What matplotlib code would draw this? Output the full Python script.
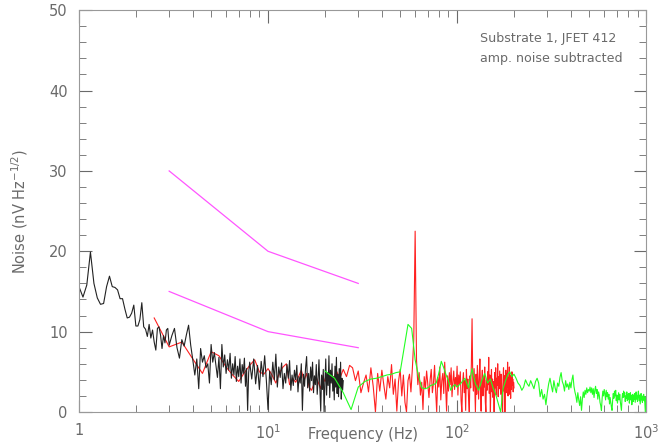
# noise spectrum, substrate 1 with JFET 412
import numpy as np
import matplotlib
matplotlib.use('Agg')
import matplotlib.pyplot as plt
from matplotlib.ticker import MultipleLocator, FixedLocator, LogLocator, NullFormatter

# black trace, three frequency segments (Hz)
black_lo = [15.6, 14.3, 15.8, 19.9, 16.0, 14.2, 13.4, 13.5, 15.6, 16.9,
            15.6, 15.5, 15.2, 14.1, 14.1, 12.8, 11.7, 11.8, 12.3, 13.3,
            10.7, 10.7, 11.5, 13.6, 10.6, 10.3, 9.4, 10.9, 9.2, 10.2,
            8.7, 7.7, 10.4, 10.6, 9.6, 7.9, 9.5, 8.6, 10.2, 10.4, 8.3]
black_mid = [9.5, 10.4, 8.0, 6.7, 9.0, 8.2, 9.6, 10.8, 8.3, 6.5,
             4.6, 6.6, 2.9, 7.9, 6.2, 7.0, 5.5, 6.0, 3.6, 8.4,
             6.2, 7.4, 5.8, 4.3, 6.8, 2.9, 8.4, 5.6, 7.1, 4.8,
             6.5, 5.2, 7.3, 4.2, 6.0, 4.6, 6.9, 3.8, 5.7, 4.4,
             6.6, 3.6, 5.9, 4.8, 6.7, 3.2, 5.4, 0.2, 4.9, 6.2]
black_hi = [4.1, 6.6, 3.5, 5.8, 2.8, 6.3, 4.4, 7.0, 3.9, 0.3,
            5.1, 3.4, 6.2, 4.0, 7.2, 3.1, 5.6, 4.3, 6.1, 2.9,
            4.8, 3.6, 5.9, 4.2, 6.4, 2.7, 4.6, 3.3, 5.2, 4.0,
            5.8, 2.5, 4.4, 3.6, 6.0, 0.2, 4.7, 3.2, 5.5, 6.9,
            3.0, 4.8, 2.6, 5.6, 3.9, 6.2, 2.4, 4.5, 3.4, 5.9,
            2.2, 4.1, 6.5, 3.0, 0.1, 4.6, 2.8, 5.3, 0.0, 3.7,
            6.6, 2.1, 4.9, 3.3, 7.0, 1.8, 5.2, 3.6, 6.0, 2.6,
            4.4, 1.5, 5.7, 3.1, 6.8, 2.3, 4.7, 1.9, 5.4, 3.0,
            6.2, 1.6, 4.2, 2.7, 3.9]

# red trace
red_lo = [11.7, 8.1, 8.7, 6.6, 4.8, 7.5, 7.0, 5.6, 4.6, 3.8,
          4.9, 5.8, 6.5, 5.0, 4.7, 5.4, 4.6, 3.6, 4.9, 5.6,
          6.0, 3.4, 4.2, 3.7, 4.4, 5.2, 3.9, 4.8, 3.1, 2.7,
          3.5, 4.3, 3.6, 2.9, 4.5, 3.8]
red_hi = [4.6, 3.9, 5.1, 4.2, 5.3, 4.4, 5.8, 5.5, 3.9, 5.1,
          2.4, 3.6, 4.6, 2.5, 5.5, 3.2, 0.0, 4.8, 2.6, 5.2,
          3.3, 1.6, 4.4, 3.0, 5.9, 2.2, 4.1, 0.1, 3.8, 5.3,
          2.0, 4.6, 1.2, 0.0, 3.9, 4.7, 2.5, 5.4, 9.0, 22.5,
          6.5, 3.4, 4.9, 2.1, 3.7, 0.3, 4.4, 2.9, 5.1, 3.5,
          1.8, 4.0, 5.3, 2.4, 3.6, 5.8, 2.7, 0.0, 4.3, 3.1,
          5.6, 1.5, 3.9, 4.8, 2.3, 6.2, 3.3, 0.1, 4.5, 2.6,
          4.9, 3.4, 5.5, 1.9, 3.8, 5.1, 2.8, 4.3, 3.2, 5.7,
          2.1, 4.6, 3.5, 5.0, 1.4, 0.0, 3.7, 4.9, 2.4, 3.9,
          0.2, 5.3, 2.9, 4.1, 1.7, 0.0, 4.5, 3.0, 6.0, 11.6,
          4.2, 2.6, 5.4, 3.3, 0.0, 4.7, 2.2, 5.8, 3.6, 1.6,
          4.4, 6.6, 2.8, 0.1, 3.9, 5.2, 2.0, 4.3, 3.1, 5.6,
          1.3, 0.0, 4.0, 2.7, 5.0, 3.4, 6.8, 2.3, 4.6, 0.0,
          3.5, 5.3, 2.5, 4.1, 1.8, 3.8, 0.0, 4.9, 3.0, 5.5,
          2.1, 4.2, 3.3, 6.0, 1.9, 4.4, 2.9, 5.1, 3.6, 2.2,
          4.7, 3.2, 1.0, 0.0, 4.0, 5.5, 2.6, 4.5, 0.0, 3.7,
          5.2, 2.4, 4.8, 3.1, 6.2, 2.0, 4.3, 3.4, 5.6, 2.2,
          3.9, 1.7, 4.6, 2.8, 5.0, 3.3, 4.1, 2.5, 3.7, 3.0]

# green trace
green_lo = [5.1, 4.2, 2.4, 0.3, 3.1, 3.8, 4.1, 4.2, 4.4, 4.6,
            4.7, 4.9, 5.0, 8.0, 10.9, 10.4, 6.5, 4.5, 3.0, 2.9,
            3.0, 3.3, 3.4, 3.6, 4.8, 6.3, 5.5, 4.6, 3.9, 2.7,
            3.2, 3.4, 3.1]
green_mid = [3.6, 4.2, 3.0, 5.4, 3.5, 2.7, 3.9, 4.8, 3.6, 4.1,
             3.0, 2.2, 1.1, 0.0, 2.9, 3.8, 4.6, 5.0, 4.4, 4.7,
             4.2, 3.6, 3.3, 2.7, 3.1, 4.0, 3.5, 3.2, 3.9, 3.4,
             2.9, 3.8, 4.2, 3.6, 1.9, 2.8, 1.6, 2.2, 0.9, 2.4,
             3.5, 4.2, 3.3, 2.5, 3.9, 3.0, 2.4, 3.6, 3.2, 4.3,
             4.9, 3.8, 3.4, 2.6, 3.9, 3.1, 3.5, 2.8, 3.7, 3.0,
             4.0, 4.6, 3.2, 2.5, 2.0, 1.2, 2.4, 1.5, 0.8, 1.9,
             0.2, 1.6, 2.5, 1.8, 2.7, 2.2, 3.0, 2.4, 2.8]
green_hi = [2.6, 3.1, 2.4, 3.0, 2.2, 2.9, 1.8, 2.7, 3.2, 2.3,
            2.8, 1.6, 2.5, 2.1, 1.2, 0.8, 0.2, 1.7, 2.6, 2.0,
            2.8, 2.3, 1.5, 2.7, 1.9, 2.4, 1.6, 2.2, 1.0, 1.8,
            1.2, 0.6, 0.2, 1.5, 2.3, 1.7, 2.6, 2.0, 2.7, 1.4,
            2.1, 1.1, 1.8, 2.4, 1.5, 2.2, 1.3, 0.7, 0.2, 1.6,
            2.3, 1.8, 2.6, 1.9, 2.4, 1.3, 2.0, 1.7, 2.5, 1.4,
            2.2, 1.6, 2.3, 1.1, 1.9, 2.4, 1.5, 2.1, 0.9, 1.7,
            2.2, 1.3, 2.0, 1.6, 2.3, 1.2, 1.8, 2.5, 1.6, 2.0,
            1.3, 2.2, 2.6, 1.8, 1.4, 2.1, 1.0, 1.7, 2.3, 1.5,
            1.9, 1.2, 2.0, 1.6, 2.2, 1.4, 1.8, 0.8, 0.0, 1.9,
            1.5]

# magenta reference lines
ref_freq = [3, 10, 30]
ref_upper = [30, 20, 16]
ref_lower = [15, 10, 8]

xtick_vals = [1, 10, 100, 1000]
xtick_labels = ['1', r'$10^{1}$', r'$10^{2}$', r'$10^{3}$']

# frequency grids (Hz) for each segment
f_black = np.concatenate([np.linspace(1.0, 3.0, len(black_lo)),
                          np.linspace(3.1, 8.0, len(black_mid)),
                          np.linspace(8.2, 25.0, len(black_hi))])
f_red = np.concatenate([np.linspace(2.5, 20.0, len(red_lo)),
                        np.linspace(21.0, 200.0, len(red_hi))])
f_green = np.concatenate([np.linspace(20.0, 100.0, len(green_lo)),
                          np.linspace(105.0, 495.0, len(green_mid)),
                          np.linspace(500.0, 1000.0, len(green_hi))])

gray = '#6a6a6a'

fig = plt.figure(figsize=(6.58, 4.43), dpi=100)
ax = fig.add_axes([0.120, 0.070, 0.862, 0.907])

ax.plot(f_red, red_lo + red_hi, color='#ff2020', lw=0.8)
ax.plot(f_black, black_lo + black_mid + black_hi, color='#222222', lw=0.8)
ax.plot(f_green, green_lo + green_mid + green_hi, color='#22ff22', lw=0.8)
ax.plot(ref_freq, ref_upper, color='#ff55ff', lw=0.9)
ax.plot(ref_freq, ref_lower, color='#ff55ff', lw=0.9)

ax.set_xscale('log')
ax.set_xlim(1, 1000)
ax.set_ylim(0, 50)

ax.xaxis.set_major_locator(FixedLocator(xtick_vals))
ax.set_xticklabels(xtick_labels)
ax.xaxis.set_minor_locator(LogLocator(base=10, subs=np.arange(2, 10)))
ax.xaxis.set_minor_formatter(NullFormatter())
ax.yaxis.set_major_locator(MultipleLocator(10))
ax.yaxis.set_minor_locator(MultipleLocator(2))

ax.tick_params(which='both', direction='in', top=True, right=True,
               color=gray, labelcolor=gray, labelsize=10.5, pad=8)
ax.tick_params(which='major', length=9)
ax.tick_params(which='minor', length=5)
for s in ax.spines.values():
    s.set_color('#999999')
    s.set_linewidth(0.8)

ax.set_xlabel('Frequency (Hz)', color=gray, fontsize=10.5, va='bottom')
ax.xaxis.set_label_coords(0.5, -0.0745)
ax.set_ylabel(r'Noise (nV Hz$^{-1/2}$)', color=gray, fontsize=10.5, labelpad=14)

ax.text(0.707, 0.93, 'Substrate 1, JFET 412', transform=ax.transAxes,
        color=gray, fontsize=9.1, ha='left', va='center')
ax.text(0.707, 0.88, 'amp. noise subtracted', transform=ax.transAxes,
        color=gray, fontsize=9.1, ha='left', va='center')

fig.savefig('out.png', dpi=100)
